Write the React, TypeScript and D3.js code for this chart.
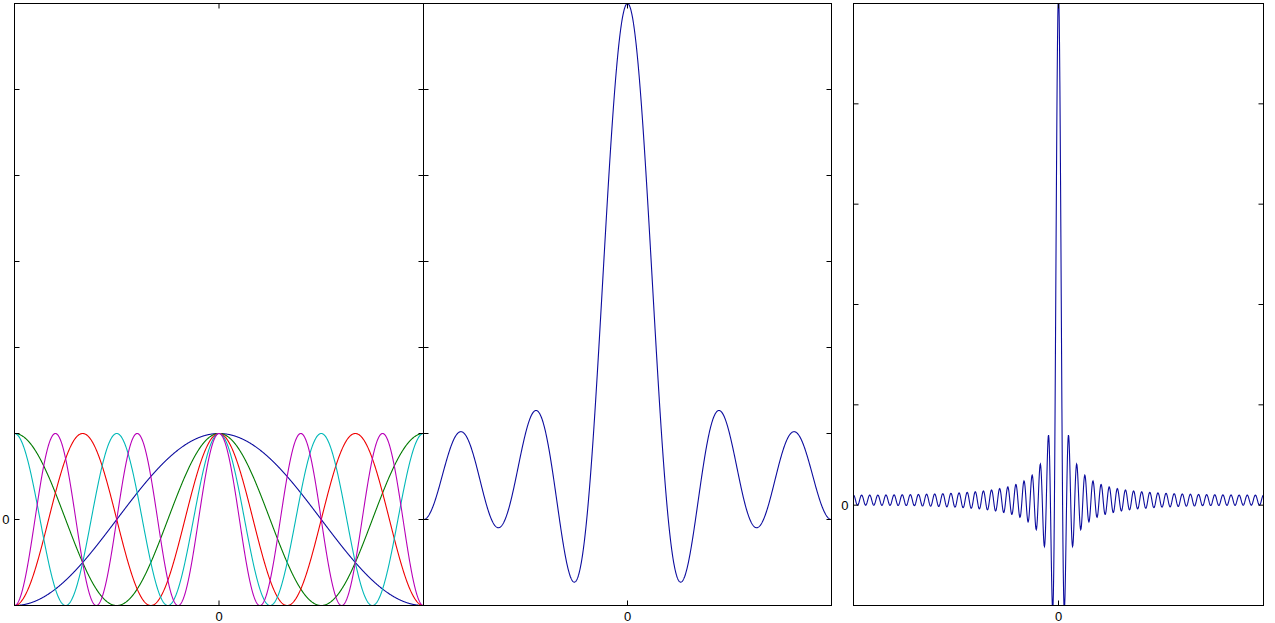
import React from "react";
import * as d3 from "d3";

// ---- data ----
const X_DOMAIN: [number, number] = [-Math.PI, Math.PI];
const X_TICKS = [0];
const X_TICK_LABELS = ["0"];

// panel 1: individual harmonics cos(k x)
const P1_HARMONICS = [1, 2, 3, 4, 5];
const P1_COLORS = ["#0c0c9e", "#007a00", "#f00000", "#00b8b8", "#b800b8"];
const P1_Y_DOMAIN: [number, number] = [-1, 6];
const P1_Y_TICKS = [-1, 0, 1, 2, 3, 4, 5, 6];

// panel 2: sum of cos(k x), k = 0..5
const P2_TERMS = [0, 1, 2, 3, 4, 5];
const P2_Y_DOMAIN: [number, number] = [-1, 6];
const P2_Y_TICKS = [-1, 0, 1, 2, 3, 4, 5, 6];

// panel 3: sum of cos(k x), k = 0..50
const P3_MAX_TERM = 50;
const P3_Y_DOMAIN: [number, number] = [-10, 50];
const P3_Y_TICKS = [-10, 0, 10, 20, 30, 40, 50];

const LINE_BLUE = "#0c0c9e";
const SAMPLES = 1200;
const FONT = "Liberation Sans, Arial, sans-serif";

type Series = { color: string; fn: (x: number) => number };

function Panel(props: {
  id: string;
  left: number;
  right: number;
  top: number;
  bottom: number;
  yDomain: [number, number];
  yTicks: number[];
  series: Series[];
}) {
  const { id, left, right, top, bottom, yDomain, yTicks, series } = props;
  const x = d3.scaleLinear().domain(X_DOMAIN).range([left, right]);
  const y = d3.scaleLinear().domain(yDomain).range([bottom, top]);
  const xs = d3.range(SAMPLES + 1).map((i) => X_DOMAIN[0] + (i / SAMPLES) * (X_DOMAIN[1] - X_DOMAIN[0]));
  const tl = 5;
  return (
    <g>
      <defs>
        <clipPath id={id}>
          <rect x={left} y={top} width={right - left} height={bottom - top} />
        </clipPath>
      </defs>
      <rect x={left} y={top} width={right - left} height={bottom - top} fill="#fff" />
      <g clipPath={`url(#${id})`}>
        {series.map((s, i) => {
          const line = d3
            .line<number>()
            .x((v) => x(v))
            .y((v) => y(s.fn(v)));
          return <path key={i} d={line(xs) || ""} fill="none" stroke={s.color} strokeWidth={1.1} />;
        })}
      </g>
      <rect x={left} y={top} width={right - left} height={bottom - top} fill="none" stroke="#000" strokeWidth={1} />
      {yTicks.map((t) => (
        <g key={"y" + t}>
          <line x1={left} x2={left + tl} y1={y(t)} y2={y(t)} stroke="#000" />
          <line x1={right} x2={right - tl} y1={y(t)} y2={y(t)} stroke="#000" />
          {t === 0 ? (
            <text x={left - 5} y={y(t) + 4.5} textAnchor="end" fontSize={13} fill="#000" fontFamily={FONT}>
              0
            </text>
          ) : null}
        </g>
      ))}
      {X_TICKS.map((t, i) => (
        <g key={"x" + t}>
          <line x1={x(t)} x2={x(t)} y1={bottom} y2={bottom - tl} stroke="#000" />
          <line x1={x(t)} x2={x(t)} y1={top} y2={top + tl} stroke="#000" />
          <text x={x(t)} y={bottom + 15} textAnchor="middle" fontSize={13} fill="#000" fontFamily={FONT}>
            {X_TICK_LABELS[i]}
          </text>
        </g>
      ))}
    </g>
  );
}

export default function App() {
  const top = 3.5;
  const bottom = 605.5;
  const p1: Series[] = P1_HARMONICS.map((k, i) => ({ color: P1_COLORS[i], fn: (v: number) => Math.cos(k * v) }));
  const p2: Series[] = [{ color: LINE_BLUE, fn: (v: number) => d3.sum(P2_TERMS, (k) => Math.cos(k * v)) }];
  const p3Terms = d3.range(0, P3_MAX_TERM + 1);
  const p3: Series[] = [{ color: LINE_BLUE, fn: (v: number) => d3.sum(p3Terms, (k) => Math.cos(k * v)) }];
  return (
    <svg
      width={1275}
      height={623}
      style={{ position: "absolute", left: 0, top: 0, background: "#fff" }}
    >
      <rect x={0} y={0} width={1275} height={623} fill="#fff" />
      <Panel id="c2" left={423.5} right={831.5} top={top} bottom={bottom} yDomain={P2_Y_DOMAIN} yTicks={P2_Y_TICKS} series={p2} />
      <Panel id="c1" left={14.5} right={423.5} top={top} bottom={bottom} yDomain={P1_Y_DOMAIN} yTicks={P1_Y_TICKS} series={p1} />
      <Panel id="c3" left={853.5} right={1263.5} top={top} bottom={bottom} yDomain={P3_Y_DOMAIN} yTicks={P3_Y_TICKS} series={p3} />
    </svg>
  );
}
